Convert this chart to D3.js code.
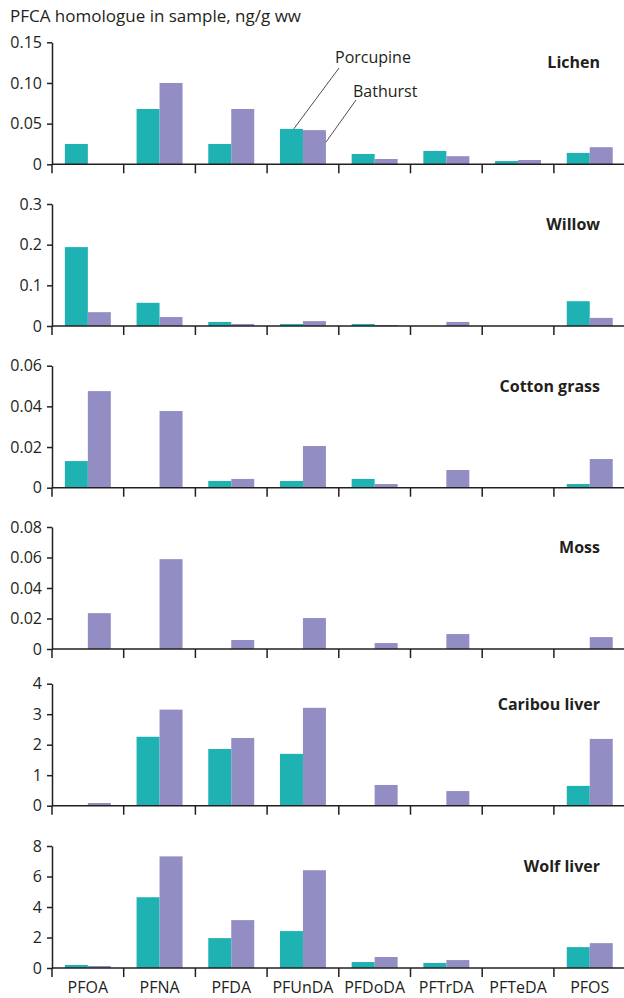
<!DOCTYPE html>
<html>
<head>
<meta charset="utf-8">
<script src="https://cdn.jsdelivr.net/npm/d3@7"></script>
<style>
  body { margin: 0; background: #fff; }
  text { font-family: "Open Sans", sans-serif; fill: #231f20; }
</style>
</head>
<body>
<svg></svg>
<script>
const compounds = ['PFOA', 'PFNA', 'PFDA', 'PFUnDA', 'PFDoDA', 'PFTrDA', 'PFTeDA', 'PFOS'];
const sites = ['Porcupine', 'Bathurst'];
const panelNames = ['Lichen', 'Willow', 'Cotton grass', 'Moss', 'Caribou liver', 'Wolf liver'];

// values per panel, ng/g ww, order follows compounds
const lichenPorcupine = [0.025, 0.068, 0.025, 0.0435, 0.0127, 0.0164, 0.004, 0.014];
const lichenBathurst = [0, 0.100, 0.068, 0.042, 0.0065, 0.010, 0.0053, 0.021];
const willowPorcupine = [0.194, 0.057, 0.010, 0.005, 0.005, 0, 0, 0.061];
const willowBathurst = [0.034, 0.022, 0.005, 0.012, 0.0025, 0.010, 0, 0.020];
const cottonPorcupine = [0.0131, 0, 0.0033, 0.0033, 0.0043, 0, 0, 0.0018];
const cottonBathurst = [0.0475, 0.0377, 0.0043, 0.0205, 0.0018, 0.0087, 0, 0.0141];
const mossPorcupine = [0, 0, 0, 0, 0, 0, 0, 0];
const mossBathurst = [0.0235, 0.0589, 0.0059, 0.0203, 0.0039, 0.0098, 0, 0.0078];
const caribouPorcupine = [0, 2.26, 1.86, 1.70, 0, 0, 0, 0.65];
const caribouBathurst = [0.088, 3.15, 2.22, 3.21, 0.68, 0.48, 0, 2.19];
const wolfPorcupine = [0.20, 4.64, 1.96, 2.42, 0.39, 0.33, 0, 1.37];
const wolfBathurst = [0.13, 7.32, 3.14, 6.41, 0.72, 0.52, 0, 1.63];

// y ticks per panel
const lichenTicks = [0, 0.05, 0.10, 0.15];
const lichenTickLabels = ['0', '0.05', '0.10', '0.15'];
const willowTicks = [0, 0.1, 0.2, 0.3];
const willowTickLabels = ['0', '0.1', '0.2', '0.3'];
const cottonTicks = [0, 0.02, 0.04, 0.06];
const cottonTickLabels = ['0', '0.02', '0.04', '0.06'];
const mossTicks = [0, 0.02, 0.04, 0.06, 0.08];
const mossTickLabels = ['0', '0.02', '0.04', '0.06', '0.08'];
const caribouTicks = [0, 1, 2, 3, 4];
const caribouTickLabels = ['0', '1', '2', '3', '4'];
const wolfTicks = [0, 2, 4, 6, 8];
const wolfTickLabels = ['0', '2', '4', '6', '8'];

const panels = [
    { name: panelNames[0], a: lichenPorcupine, b: lichenBathurst, ticks: lichenTicks, labels: lichenTickLabels },
    { name: panelNames[1], a: willowPorcupine, b: willowBathurst, ticks: willowTicks, labels: willowTickLabels },
    { name: panelNames[2], a: cottonPorcupine, b: cottonBathurst, ticks: cottonTicks, labels: cottonTickLabels },
    { name: panelNames[3], a: mossPorcupine, b: mossBathurst, ticks: mossTicks, labels: mossTickLabels },
    { name: panelNames[4], a: caribouPorcupine, b: caribouBathurst, ticks: caribouTicks, labels: caribouTickLabels },
    { name: panelNames[5], a: wolfPorcupine, b: wolfBathurst, ticks: wolfTicks, labels: wolfTickLabels }
];

const svgWidth = 624;
const svgHeight = 998;
const axisLeftX = 52;
const bandStep = 71.7;
const baselines = [164.3, 326, 487.7, 649, 805.7, 968];
const panelHeight = 122;
const colors = { Porcupine: '#1fb2b3', Bathurst: '#928dc3' };
const ink = '#231f20';

const svg = d3.select('svg')
    .attr('width', svgWidth)
    .attr('height', svgHeight);

const xScale = d3.scaleBand()
    .domain(compounds)
    .range([axisLeftX, axisLeftX + bandStep * compounds.length])
    .padding(0);

const xSub = d3.scaleBand()
    .domain(sites)
    .range([0, xScale.bandwidth()])
    .paddingInner(0)
    .paddingOuter(0.56);

svg.append('text')
    .attr('x', 10)
    .attr('y', 22)
    .attr('font-size', '17px')
    .text('PFCA homologue in sample, ng/g ww');

panels.forEach((p, i) => {
    const base = baselines[i];
    const yScale = d3.scaleLinear()
        .domain([0, p.ticks[p.ticks.length - 1]])
        .range([base, base - panelHeight]);

    const g = svg.append('g');

    const rows = compounds.map((c, k) => ({ c, Porcupine: p.a[k], Bathurst: p.b[k] }));

    sites.forEach(s => {
        g.selectAll('.bar-' + s)
            .data(rows.filter(d => d[s] > 0))
            .enter().append('rect')
            .attr('x', d => xScale(d.c) + xSub(s))
            .attr('y', d => yScale(d[s]))
            .attr('width', xSub.bandwidth())
            .attr('height', d => base - yScale(d[s]))
            .attr('fill', colors[s]);
    });

    // y axis
    const yAxis = g.append('g')
        .attr('transform', `translate(${axisLeftX}, 0)`)
        .call(d3.axisLeft(yScale)
            .tickValues(p.ticks)
            .tickFormat((d, k) => p.labels[k])
            .tickSize(5)
            .tickSizeOuter(0)
            .tickPadding(5));
    yAxis.selectAll('path, line').attr('stroke', ink).attr('stroke-width', 1.5);
    yAxis.selectAll('text')
        .attr('font-size', '16px')
        .attr('font-family', '"Open Sans", sans-serif')
        .attr('fill', ink);

    // x baseline and category boundary ticks
    g.append('line')
        .attr('x1', axisLeftX)
        .attr('x2', svgWidth)
        .attr('y1', base)
        .attr('y2', base)
        .attr('stroke', ink)
        .attr('stroke-width', 1.5);

    g.selectAll('.xtick')
        .data(compounds)
        .enter().append('line')
        .attr('x1', d => xScale(d))
        .attr('x2', d => xScale(d))
        .attr('y1', base)
        .attr('y2', base + 9)
        .attr('stroke', ink)
        .attr('stroke-width', 1.5);

    g.append('text')
        .attr('x', 600)
        .attr('y', base - panelHeight + 26)
        .attr('text-anchor', 'end')
        .attr('font-size', '16px')
        .attr('font-weight', 'bold')
        .text(p.name);

    if (i === panels.length - 1) {
        g.selectAll('.xlabel')
            .data(compounds)
            .enter().append('text')
            .attr('x', d => xScale(d) + xScale.bandwidth() / 2)
            .attr('y', base + 25)
            .attr('text-anchor', 'middle')
            .attr('font-size', '16px')
            .text(d => d);
    }

    // leader labels on the first panel
    if (i === 0) {
        const k = compounds.indexOf('PFUnDA');
        const bw = xSub.bandwidth();
        const px = xScale('PFUnDA') + xSub('Porcupine') + bw * 0.6;
        const bx = xScale('PFUnDA') + xSub('Bathurst') + bw;

        g.append('line')
            .attr('x1', px).attr('y1', yScale(p.a[k]))
            .attr('x2', 339).attr('y2', 68)
            .attr('stroke', ink).attr('stroke-width', 0.8);
        g.append('text')
            .attr('x', 335).attr('y', 63)
            .attr('font-size', '16px')
            .text(sites[0]);

        g.append('line')
            .attr('x1', bx).attr('y1', yScale(p.b[k]) + 12)
            .attr('x2', 356).attr('y2', 100)
            .attr('stroke', ink).attr('stroke-width', 0.8);
        g.append('text')
            .attr('x', 353).attr('y', 97)
            .attr('font-size', '16px')
            .text(sites[1]);
    }
});
</script>
</body>
</html>
